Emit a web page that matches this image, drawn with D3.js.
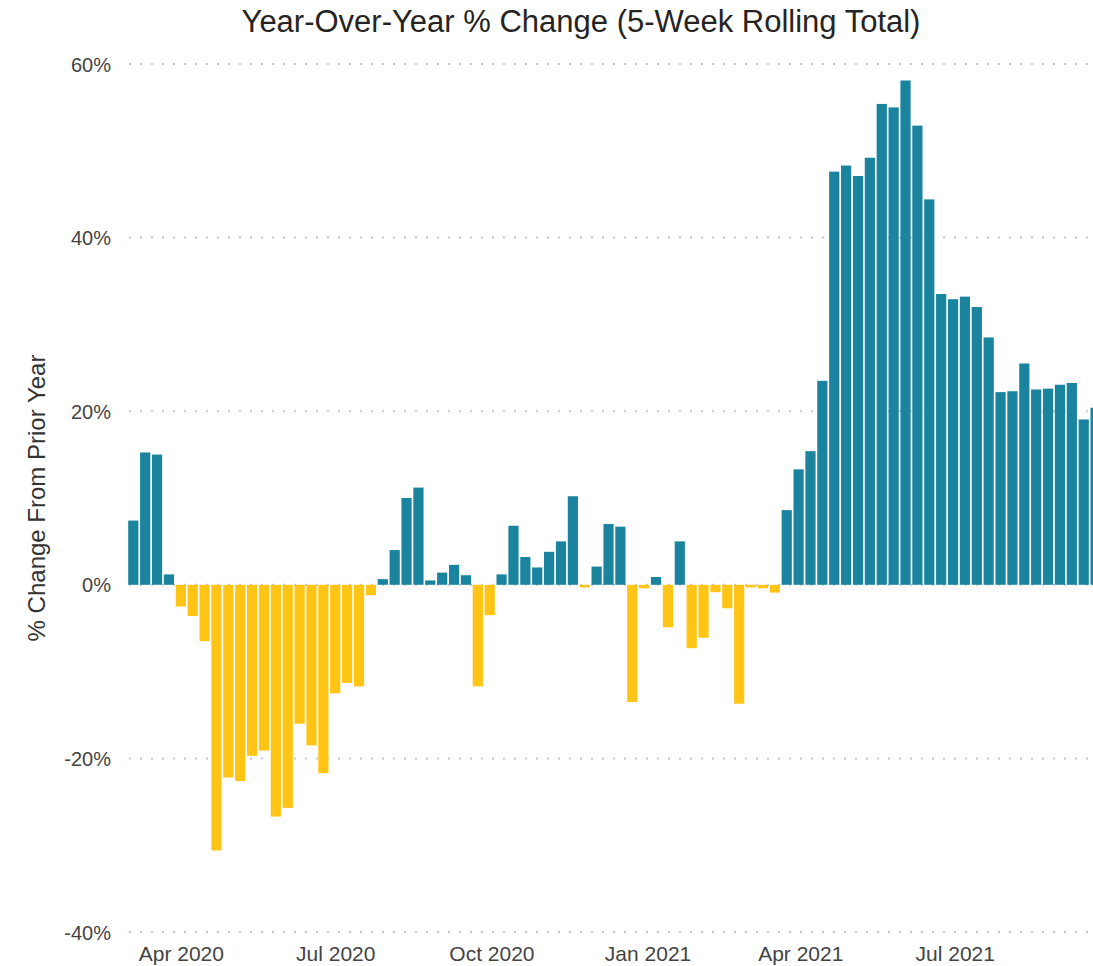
<!DOCTYPE html>
<html>
<head>
    <script src="https://d3js.org/d3.v7.min.js"></script>
    <style>
        body {
            margin: 0;
            background-color: white;
        }

        .title {
            font: 31px "Liberation Sans", Arial, sans-serif;
            fill: #252423;
        }

        .axis-title {
            font: 24px "Liberation Sans", Arial, sans-serif;
            fill: #333;
        }

        .tick text {
            font: 20px "Liberation Sans", Arial, sans-serif;
            fill: #444;
        }

        .x-axis .tick text {
            font-size: 21px;
        }

        .grid line {
            stroke: #c8c8c8;
            stroke-width: 2px;
            stroke-dasharray: 2, 9;
        }
    </style>
</head>
<body>
    <script>
        // first week of the rolling series, one bar per week after it
        const firstWeek = new Date(2020, 2, 4);
        const lastWeek = new Date(2021, 8, 22);

        const changes = [
            7.4, 15.25, 15.0, 1.2, -2.5, -3.6, -6.5, -30.6, -22.2, -22.6,
            -19.7, -19.1, -26.7, -25.7, -16.0, -18.5, -21.7, -12.5, -11.3, -11.7,
            -1.2, 0.65, 4.0, 10.0, 11.2, 0.5, 1.4, 2.3, 1.1, -11.7,
            -3.5, 1.2, 6.8, 3.2, 2.0, 3.8, 5.0, 10.2, -0.3, 2.1,
            7.0, 6.7, -13.5, -0.4, 0.9, -4.9, 5.0, -7.3, -6.1, -0.85,
            -2.7, -13.7, -0.3, -0.4, -0.9, 8.6, 13.3, 15.4, 23.5, 47.6,
            48.3, 47.1, 49.2, 55.4, 55.0, 58.1, 52.9, 44.4, 33.5, 32.9,
            33.2, 32.0, 28.5, 22.2, 22.3, 25.5, 22.5, 22.6, 23.05, 23.25,
            19.05, 20.4
        ];

        const yTicks = [-40, -20, 0, 20, 40, 60];
        const xTicks = [
            new Date(2020, 3, 1), new Date(2020, 6, 1), new Date(2020, 9, 1),
            new Date(2021, 0, 1), new Date(2021, 3, 1), new Date(2021, 6, 1)
        ];

        const weeks = d3.timeDay.range(firstWeek, d3.timeDay.offset(lastWeek, 1), 7)
            .slice(0, changes.length);
        const data = weeks.map((d, i) => ({ week: d, value: changes[i] }));

        const width = 1093;
        const height = 966;

        const svg = d3.select('body').append('svg')
            .attr('width', width)
            .attr('height', height);

        const x = d3.scaleTime()
            .domain([firstWeek, lastWeek])
            .range([133.3, 1095.6]);

        const y = d3.scaleLinear()
            .domain([-40, 60])
            .range([932, 64]);

        const barWidth = 10.2;

        // dotted gridlines
        svg.append('g')
            .attr('class', 'grid')
            .selectAll('line')
            .data(yTicks)
            .enter().append('line')
            .attr('x1', 129)
            .attr('x2', width)
            .attr('y1', d => y(d))
            .attr('y2', d => y(d));

        svg.append('g')
            .attr('class', 'bars')
            .selectAll('rect')
            .data(data)
            .enter().append('rect')
            .attr('x', d => x(d.week) - barWidth / 2)
            .attr('width', barWidth)
            .attr('y', d => y(Math.max(0, d.value)))
            .attr('height', d => Math.abs(y(d.value) - y(0)))
            .attr('fill', d => d.value >= 0 ? '#1a849f' : '#ffc414');

        const yAxis = svg.append('g')
            .attr('transform', 'translate(111,0)')
            .call(d3.axisLeft(y).tickValues(yTicks).tickFormat(d => d + '%').tickSize(0).tickPadding(0));
        yAxis.select('.domain').remove();
        yAxis.selectAll('.tick text').attr('dy', '0.35em');

        const xAxis = svg.append('g')
            .attr('class', 'x-axis')
            .attr('transform', 'translate(0,945)')
            .call(d3.axisBottom(x).tickValues(xTicks).tickFormat(d3.timeFormat('%b %Y')).tickSize(0).tickPadding(0));
        xAxis.select('.domain').remove();
        xAxis.selectAll('.tick text').attr('dy', '0.75em');

        svg.append('text')
            .attr('class', 'title')
            .attr('x', 581)
            .attr('y', 32)
            .attr('text-anchor', 'middle')
            .text('Year-Over-Year % Change (5-Week Rolling Total)');

        svg.append('text')
            .attr('class', 'axis-title')
            .attr('transform', 'translate(45,498) rotate(-90)')
            .attr('text-anchor', 'middle')
            .text('% Change From Prior Year');
    </script>
</body>
</html>
